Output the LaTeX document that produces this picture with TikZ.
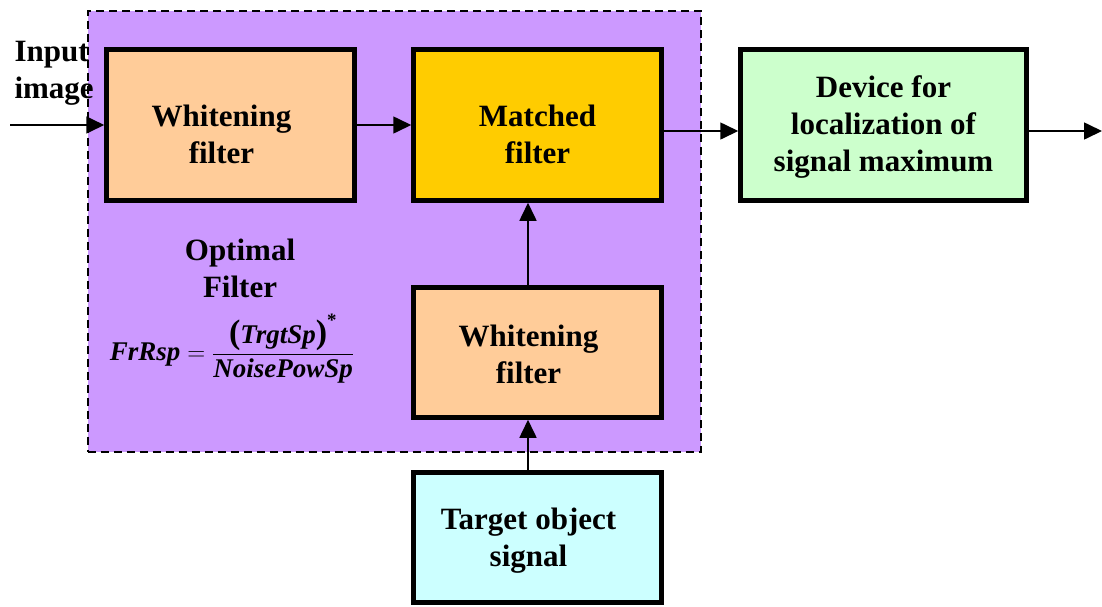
\documentclass[tikz,border=0pt]{standalone}
\usepackage{fontspec}
\usepackage{amsmath}
\setmainfont{Liberation Serif}
\usetikzlibrary{positioning,arrows.meta}
\definecolor{FltPurple}{HTML}{CC99FF}
\definecolor{SoftPeach}{HTML}{FFCC99}
\definecolor{SoftGold}{HTML}{FFCC00}
\definecolor{SoftGreen}{HTML}{CCFFCC}
\definecolor{SoftCyan}{HTML}{CCFFFF}
\newcommand{\bigparen}[1]{\text{\fontsize{34}{34}\selectfont\bfseries #1}}

\begin{document}
\begin{tikzpicture}[x=1pt,y=-1pt,>={Triangle[length=18pt,width=17pt]},
    blk/.style={draw,line width=4.5pt,minimum width=248pt,minimum height=151pt,inner sep=0pt},
    txt/.style={font=\fontsize{31}{37}\selectfont\bfseries,align=center},
    flow/.style={->,line width=1.6pt}]
      \useasboundingbox (0,0) rectangle (1102,606);
      % optimal filter region
      \node[draw,dash pattern=on 8pt off 5pt,line width=2pt,fill=FltPurple,minimum width=613pt,minimum height=441pt,inner sep=0pt] (opt) at (394,231) {};
      \node[blk,fill=SoftPeach,label={[txt,xshift=-9pt,yshift=-9pt]center:Whitening\\filter}] (wf1) at (230.5,125) {};
      \node[blk,fill=SoftGold,label={[txt,yshift=-9pt]center:Matched\\filter}] (mf) at (537.5,125) {};
      \node[blk,fill=SoftGreen,minimum width=286pt,label={[txt,yshift=-2pt]center:Device for\\localization of\\signal maximum}] (dev) at (883.5,125) {};
      \node[blk,fill=SoftPeach,minimum height=130pt,label={[txt,xshift=-9pt,yshift=-2pt]center:Whitening\\filter}] (wf2) at (537.5,352.5) {};
      \node[blk,fill=SoftCyan,minimum height=130pt,label={[txt,xshift=-9pt,yshift=-3pt]center:Target object\\signal}] (tgt) at (537.5,537.5) {};
      \node[txt,align=left,anchor=west] (inp) at (11,73) {Input\\image};
      \node[txt] (optname) at (240,268.5) {Optimal\\Filter};
      \node[font=\fontsize{27}{32}\selectfont] (frm) at (232,349) {$\text{\bfseries\itshape FrRsp}=\dfrac{\bigparen{(}\text{\bfseries\itshape TrgtSp}\bigparen{)}^{\text{\bfseries *}}}{\text{\bfseries\itshape NoisePowSp}}$};
      \coordinate (in) at (10,125);
      \coordinate (out) at (1102,131);
      \draw[flow] (in) -- (wf1);
      \draw[flow] (wf1) -- (mf);
      \draw[flow] ([yshift=-6pt]mf.east) -- ([yshift=-6pt]dev.west);
      \draw[flow] ([yshift=-6pt]dev.east) -- (out);
      \draw[flow] ([xshift=-9.5pt]wf2.north) -- ([xshift=-9.5pt]mf.south);
      \draw[flow] ([xshift=-9.5pt]tgt.north) -- ([xshift=-9.5pt]wf2.south);
    \end{tikzpicture}
\end{document}
